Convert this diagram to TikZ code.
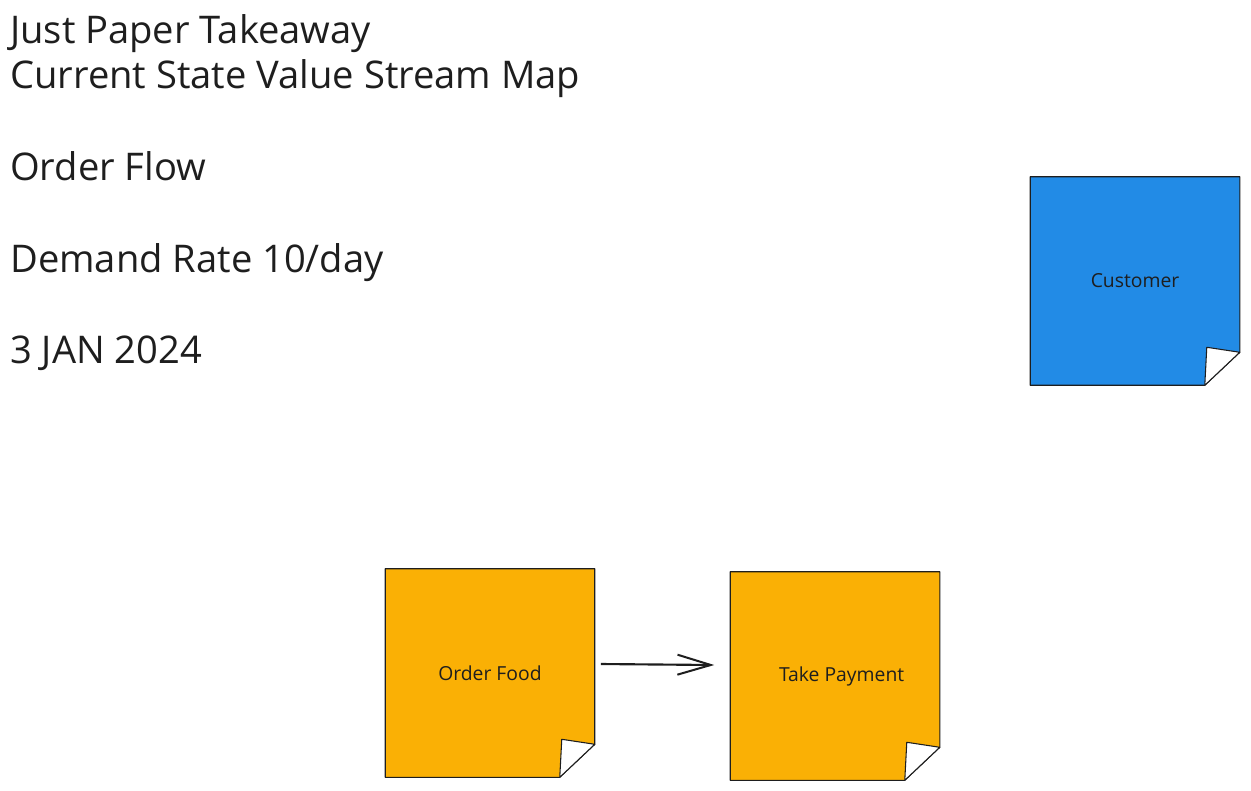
\documentclass[tikz,border=0pt]{standalone}
\usepackage{fontspec}
\setmainfont{Open Sans}
\usetikzlibrary{arrows.meta,calc,backgrounds}
\definecolor{inkdark}{HTML}{1E1E1E}
\definecolor{noteblue}{HTML}{228BE6}
\definecolor{noteamber}{HTML}{FAB005}

\begin{document}
\begin{tikzpicture}[
        x=0.75pt, y=-0.75pt,
        headline/.style={anchor=base west, inner sep=0pt, text=inkdark,
                font=\fontsize{28.6}{34}\selectfont},
        note/.style={minimum width=209*0.75pt, minimum height=208*0.75pt,
                inner sep=0pt, text=inkdark, font=\fontsize{14.5}{17}\selectfont},
        arr/.style={-{Straight Barb[length=25pt,width=15pt,line width=1.5pt]},
                line width=1.6pt, inkdark}
        ]
        \useasboundingbox (0,0) rectangle (1251,790);

        % heading block
        \node[headline] (title) at (10,43) {Just Paper Takeaway};
        \node[headline] (subtitle) at (10,88) {Current State Value Stream Map};
        \node[headline] (flow) at (10,180) {Order Flow};
        \node[headline] (demand) at (10,272) {Demand Rate 10/day};
        \node[headline] (date) at (10,363) {3 JAN 2024};

        % sticky notes
        \node[note] (customer) at (1135,281) {Customer};
        \node[note] (orderfood) at (490,673) {Order Food};
        \node[note] (takepayment) at (835,676) {\hspace*{10pt}Take Payment};

        \begin{scope}[on background layer]
            \foreach \n/\c in {customer/noteblue, orderfood/noteamber, takepayment/noteamber} {
                \filldraw[fill=\c, draw=inkdark, line width=0.8pt, line join=round]
                    (\n.north west) -- (\n.north east)
                    -- ($(\n.south east)+(0,-33)$) -- ($(\n.south east)+(-35,0)$)
                    -- (\n.south west) -- cycle;
                \filldraw[fill=white, draw=inkdark, line width=0.8pt, line join=round]
                    ($(\n.south east)+(-33,-38)$) -- ($(\n.south east)+(0,-33)$)
                    -- ($(\n.south east)+(-35,0)$) -- cycle;
            }
        \end{scope}

        \draw[arr] ($(orderfood.east)+(6,-9)$) -- ($(takepayment.west)+(-16,-11)$);
\end{tikzpicture}
\end{document}
